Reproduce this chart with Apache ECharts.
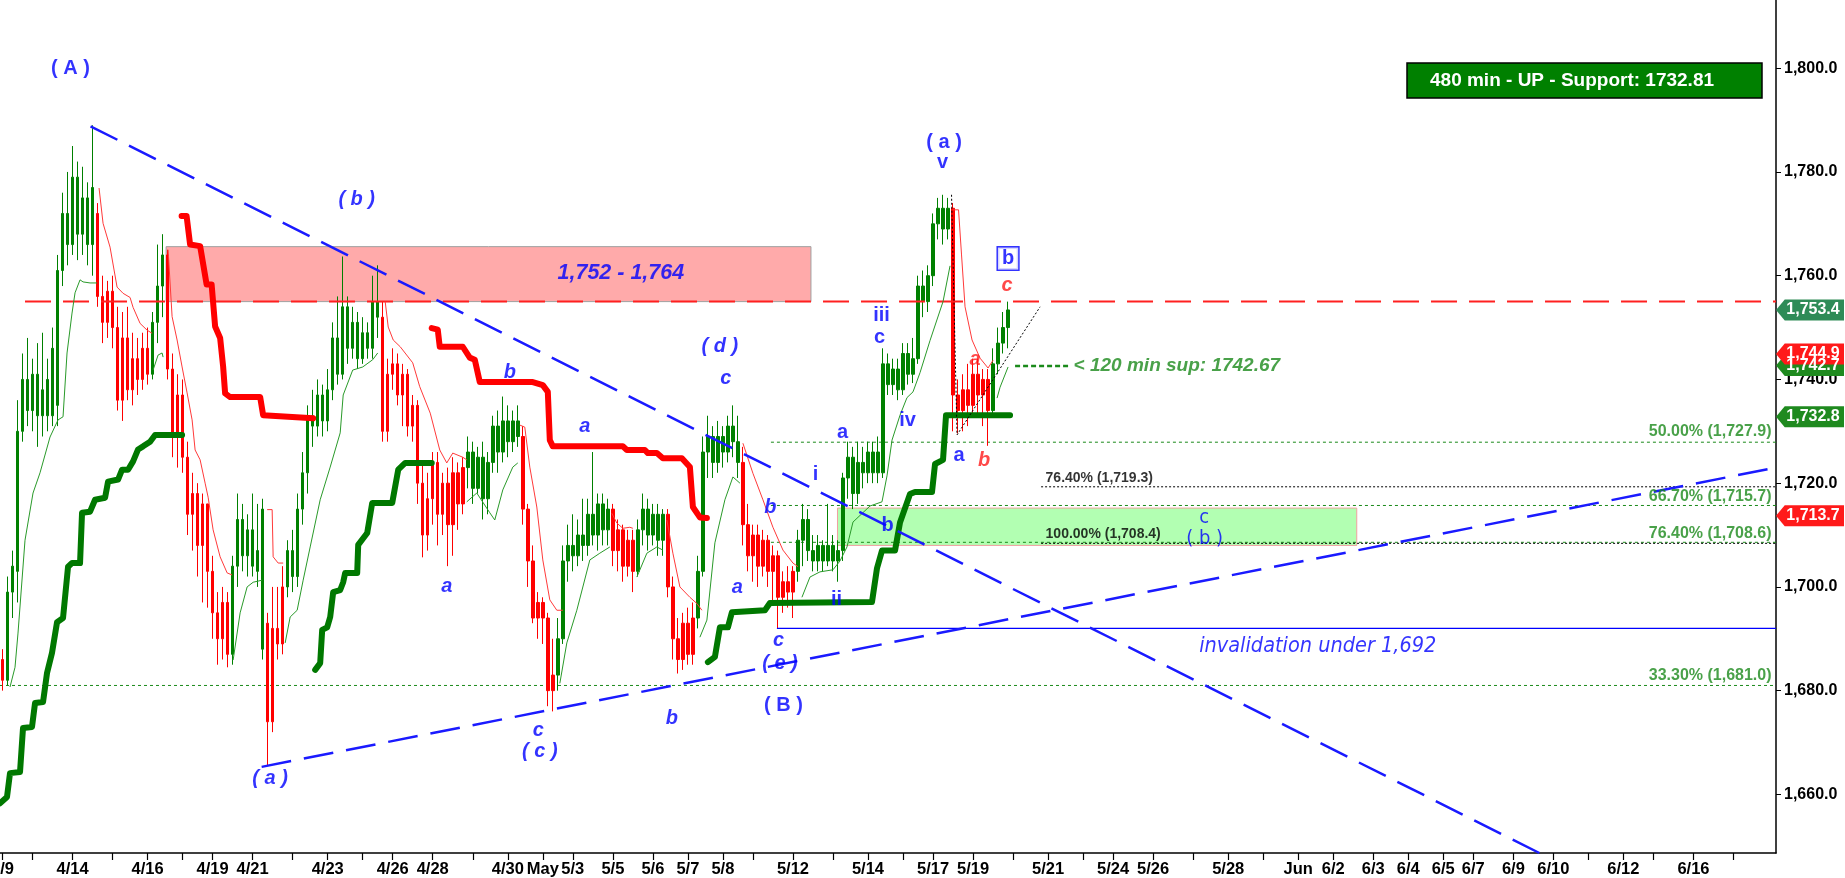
<!DOCTYPE html>
<html><head><meta charset="utf-8">
<script src="https://cdn.jsdelivr.net/npm/echarts@6/dist/echarts.min.js"></script>
<style>html,body{margin:0;padding:0;background:#fff;overflow:hidden}#c{width:1845px;height:878px}</style>
</head><body><div id="c"></div>
<script>
// ---------------- DATA ----------------
const N = 355;                       // bar slots on the time axis (data + future)
const yMin = 1648.7, yMax = 1813.15;
const yTicks = [1660,1680,1700,1720,1740,1760,1780,1800];
const dateLabels = [[0,'4/9'],[14,'4/14'],[29,'4/16'],[42,'4/19'],[50,'4/21'],[65,'4/23'],[78,'4/26'],[86,'4/28'],[101,'4/30'],[108,'May'],[114,'5/3'],[122,'5/5'],[130,'5/6'],[137,'5/7'],[144,'5/8'],[158,'5/12'],[173,'5/14'],[186,'5/17'],[194,'5/19'],[209,'5/21'],[222,'5/24'],[230,'5/26'],[245,'5/28'],[259,'Jun'],[266,'6/2'],[274,'6/3'],[281,'6/4'],[288,'6/5'],[294,'6/7'],[302,'6/9'],[310,'6/10'],[324,'6/12'],[338,'6/16']];
const extraTicks = [6,22,36,58,72,94,150,166,180,202,216,238,252,317,330,346];

// [open, close, low, high]
const candles = [
[1686,1682,1680,1688],[1682,1699,1681,1702],[1699,1704,1694,1707],[1703,1730,1697,1736],[1730,1740,1728,1745],
[1740,1734,1731,1748],[1734,1741,1730,1744],[1741,1733,1727,1747],[1733,1738,1729,1749],[1740,1733,1730,1744],
[1733,1746,1731,1750],[1735,1761,1731,1764],[1761,1772,1758,1776],[1772,1766,1762,1780],[1766,1779,1764,1785],
[1779,1768,1763,1782],[1768,1775,1764,1781],[1775,1766,1762,1778],[1766,1777,1760,1789],[1772,1756,1754,1774],
[1756,1751,1747,1760],[1751,1757,1748,1759],[1757,1750,1746,1760],[1750,1736,1734,1754],[1736,1748,1732,1753],
[1748,1738,1736,1754],[1738,1744,1735,1749],[1744,1740,1737,1748],[1740,1746,1738,1749],[1746,1741,1739,1750],
[1741,1751,1740,1753],[1751,1758,1747,1766],[1758,1764,1752,1768],[1764,1742,1740,1765],[1742,1729,1725,1745],
[1729,1737,1723,1741],[1737,1725,1722,1740],[1725,1714,1710,1728],[1714,1718,1707,1722],[1718,1708,1702,1720],
[1708,1716,1697,1718],[1716,1703,1696,1716],[1703,1695,1690,1706],[1695,1690,1685,1699],[1690,1697,1686,1700],
[1697,1687,1684.5,1699],[1687,1704,1685,1706],[1704,1713,1700,1718],[1713,1706,1703,1716],[1706,1711,1702,1714],
[1711,1704,1702,1718],[1707,1703,1700,1716],[1688,1715,1686,1717],[1693,1674,1665.6,1695],[1674,1692,1672,1700],
[1692,1689,1686,1700],[1689,1700,1687,1704],[1700,1707,1698,1709],[1707,1702,1699,1711],[1702,1715,1700,1718],
[1715,1722,1712,1726],[1722,1733,1718,1735],[1733,1731,1727,1738],[1731,1737,1729,1740],[1737,1732,1729,1739],
[1732,1738,1730,1742],[1738,1748,1736,1751],[1748,1741,1739,1756],[1741,1754,1740,1763.7],[1754,1746,1743,1756],
[1746,1751,1744,1754],[1751,1744,1742,1753],[1744,1749,1743,1752],[1749,1746,1744,1751],[1746,1755,1744,1760],
[1755,1752,1748,1762],[1752,1730,1728,1755],[1730,1741,1728,1744],[1741,1743,1738,1746],[1743,1737,1735,1745],
[1737,1741,1731,1743],[1741,1731,1729,1742],[1731,1735,1728,1737],[1735,1720,1716,1736],[1720,1710,1705.7,1724],
[1710,1717,1707,1722],[1717,1724,1712,1726],[1724,1714,1708,1726],[1714,1720,1710,1722],[1720,1712,1704,1723],
[1712,1722,1706,1725],[1722,1716,1711,1724],[1716,1723,1714,1725],[1723,1726,1719,1729],[1726,1719,1716,1728],
[1719,1725,1718,1727],[1725,1717,1713,1728],[1717,1724,1714,1726],[1724,1731,1722,1733],[1731,1726,1722,1734],
[1726,1732,1724,1736.7],[1732,1728,1725,1735],[1728,1732,1726,1734],[1732,1729,1727,1735],[1729,1715,1712,1731],
[1715,1705,1700,1716],[1705,1694,1693,1708],[1694,1697,1690,1699],[1697,1694,1689,1698],[1694,1680,1677,1695],
[1680,1683,1676,1690],[1683,1690,1680,1694],[1690,1705,1689,1708],[1705,1708,1701,1712],[1708,1706,1703,1714],
[1706,1710,1704,1713],[1710,1708,1705,1717],[1708,1714,1706,1717],[1714,1710,1708,1726],[1710,1716,1707,1718],
[1716,1711,1708,1718],[1711,1715,1708,1717],[1715,1707,1704,1716],[1707,1711,1703,1713],[1711,1704,1701,1712],
[1704,1709,1702,1711],[1709,1703,1699,1711],[1703,1711,1702,1713],[1711,1715,1708,1718],[1715,1710,1707,1717],
[1710,1714,1708,1716],[1714,1709,1706,1716],[1709,1714,1706,1715],[1714,1700,1698,1715],[1700,1690,1686,1702],
[1690,1686,1683.3,1694],[1686,1693,1684,1695],[1693,1687,1685,1696],[1687,1694,1685,1697],[1694,1703,1692,1706],
[1703,1726,1702,1729],[1726,1729,1721,1733],[1729,1724,1721,1731],[1724,1729,1722,1732],[1729,1726,1723,1731],
[1726,1731,1724,1733],[1731,1728,1725,1735],[1728,1724,1721,1733],[1724,1712,1708,1727],[1712,1706,1703,1716],
[1706,1710,1701,1712],[1710,1704,1700,1712],[1704,1709,1702,1711],[1709,1703,1700,1710],[1703,1706,1697,1708],
[1706,1698,1692,1707],[1698,1701,1695,1703],[1701,1699,1696,1704],[1699,1703,1694,1704],[1703,1709,1701,1711],
[1709,1713,1704,1716],[1713,1707,1705,1715],[1707,1705,1703,1710],[1705,1708,1703,1710],[1708,1705,1703,1709],
[1705,1708,1704,1716],[1708,1705,1703,1710],[1705,1707,1701,1709],[1707,1721,1705,1722],[1721,1725,1717,1728],
[1725,1718,1715,1727],[1718,1724,1716,1728],[1724,1722,1719,1727],[1722,1726,1720,1728],[1726,1722,1720,1728],
[1722,1726,1720,1729],[1722,1743,1721,1746],[1743,1739,1737,1745],[1739,1742,1737,1744],[1742,1738,1736,1744],
[1738,1745,1737,1747],[1745,1741,1739,1747],[1741,1744,1739.3,1748],[1744,1758,1743,1760],[1758,1755,1752,1761],
[1755,1760,1753,1762],[1760,1770,1758,1772],[1770,1773,1767,1775],[1773,1769,1766,1775.6],[1769,1773,1767,1775],
[1773,1737,1730,1774],[1737,1734,1729.6,1740],[1734,1738,1730,1741],[1738,1735,1731,1743],[1735,1741,1733,1744],
[1741,1737,1733,1744],[1737,1740,1731,1742],[1740,1734,1727.2,1742],[1734,1743,1733,1746],[1743,1747,1741,1750],
[1747,1750,1745,1753],[1750,1753.4,1746,1755]
];
// bars in a down-trend state (indicator colour)
const downTrendBars = [[0,0],[19,29],[33,45],[53,56],[76,92],[104,110],[122,126],[133,138],[148,158],[190,197]];

// thin trailing envelopes: [barIndex, price]
const thinGreen = [
 [[1.5,1680.7],[2.5,1684.5],[3.1,1691.1],[4.5,1709],[6.1,1718.1],[7.5,1722],[9.5,1728.9],[11.1,1732.2],[12.1,1732.8],[12.9,1745.1],[13.9,1752.8],[14.5,1756.7],[15.5,1759.2],[16.1,1758.8],[17.5,1758.6],[18.9,1758.6]],
 [[30.1,1741.8],[31.1,1744.7],[31.9,1745.1],[32.1,1744.3]],
 [[46.1,1685.9],[47.5,1695],[48.9,1700],[50.1,1700.9],[51.9,1701.3]],
 [[56.5,1689.2],[57.5,1694.2],[58.9,1695.5],[60.1,1701.3],[61.5,1707.7],[63.5,1716.8],[65.5,1723.1],[67.5,1729.7],[68.1,1737],[70,1741.8],[72,1742.4],[74,1743.8],[75,1745.1]],
 [[92.8,1716.4],[94.8,1718.1],[97.4,1714.3],[98.4,1712.9],[100,1718.7],[102,1723.1],[103,1723.9]],
 [[111.4,1681.4],[112.8,1689.2],[114.8,1695.5],[117.4,1705.2],[119.4,1706.5],[121.4,1707.7]],
 [[126.8,1701.9],[128.8,1706.5],[130.8,1707.7],[132,1707.1]],
 [[139.4,1690.3],[140.8,1693.6],[142.4,1708.5],[144.4,1716.8],[146,1721.2],[147.4,1720]],
 [[159.8,1698],[161.4,1701.9],[163.4,1702.9],[166,1703.3],[167.4,1705],[168.8,1707.7],[170,1712.5],[173.4,1715.6],[175.8,1716.4],[176.8,1721.4],[177.8,1728.3],[179.4,1733.1],[180.8,1736.5],[182,1737.6],[183.4,1741.3],[185.4,1747.5],[188,1755],[189.4,1761.9]],
 [[198.8,1736.4],[199.4,1738.5],[201,1742.4]]
];
const thinRed = [
 [[19.3,1776.9],[20.1,1770.1],[21.5,1765.5],[22.9,1757.8],[24.1,1756.6],[25.5,1755.8],[26.1,1753.9],[27.5,1750.8],[28.9,1749.5],[29.9,1748.9]],
 [[33.1,1765],[33.9,1752.1],[34.9,1747.6],[35.9,1742.4],[36.9,1737.4],[37.9,1732.2],[38.5,1726.4],[39.5,1724.5],[40.5,1720],[41.1,1717.3],[42.1,1711],[43.5,1705.8],[44.9,1702.7],[45.9,1702.3]],
 [[52.9,1714.9],[53.9,1714.9],[54.1,1705.8],[55.1,1704.6],[56.1,1704.6]],
 [[76.5,1755],[77.1,1750.1],[78.1,1747.6],[79.5,1746.3],[82,1743.2],[83.4,1738.6],[85.5,1733.5],[87.4,1726.4],[88.8,1723.9],[90,1725.8],[92,1725],[92.8,1724.5]],
 [[103.4,1731.2],[104.4,1730.8],[105.4,1723.1],[106.8,1715.4],[108,1705.2],[109.4,1697.5],[110.8,1695.5],[112,1695.5]],
 [[121.8,1714.2],[122.8,1712.3],[124,1711.3],[125.4,1711.5],[126,1711.3]],
 [[132.8,1712.9],[134,1706.5],[135.4,1700],[137.4,1698],[138.8,1696.8],[139.8,1695.5]],
 [[148,1727.7],[150,1721.9],[152,1716.8],[154,1711.5],[156,1707.1],[158,1704.6],[159,1703.9]],
 [[189.9,1772.7],[191.1,1772.7],[191.7,1764],[192.4,1754],[193.8,1747.6],[195.4,1744.1],[197,1742.2],[198,1743.7]]
];
// thick trailing stops
const thickRed = [
 [[35.8,1771.5],[36.8,1771.5],[37.5,1766],[39.5,1765.7],[40.8,1758.3],[41.8,1758.3],[42.5,1750.2],[43.5,1748],[44.1,1742.5],[44.5,1737.3],[45.5,1736.6],[51.5,1736.6],[52.1,1733.1],[62.1,1732.5]],
 [[85.8,1749.9],[87,1749.6],[87.4,1746.3],[92,1746.3],[93.4,1744.2],[94.4,1743.8],[95.4,1739.5],[106,1739.5],[108,1738.9],[109,1737.6],[109.4,1728.3],[110,1727.1],[124,1727.1],[124.8,1726.4],[128.4,1726.4],[129,1725.8],[130.8,1725.8],[132,1724.8],[135.8,1724.8],[137.4,1723.1],[138,1715.4],[139.4,1713.4],[140.8,1713.3]]
];
const thickGreen = [
 [[-0.5,1658.3],[0.9,1659.5],[1.5,1664.1],[3.5,1664.3],[4.1,1672.8],[5.9,1673],[6.5,1677.6],[8.1,1677.8],[8.9,1683.4],[9.9,1687.3],[10.9,1693.2],[12.1,1694],[13.1,1703.9],[13.9,1704.6],[15.5,1704.6],[15.9,1714.3],[17.5,1714.5],[18.5,1716.8],[20.5,1717.2],[21.1,1720.3],[23.1,1720.7],[23.9,1722.6],[25.1,1722.6],[26.1,1724.2],[27.1,1726.5],[28.1,1727.1],[29.5,1728],[30.5,1729.3],[35.9,1729.3]],
 [[62.5,1684],[63.5,1685.3],[63.9,1691.7],[64.9,1692.2],[65.5,1694.2],[66.1,1699],[67.5,1699.4],[68.1,1700.9],[68.5,1702.7],[70.9,1702.7],[71.1,1708.1],[72.9,1710.4],[73.9,1716.2],[77.9,1716.2],[79.1,1722.6],[80.5,1723.9],[85.8,1723.9]],
 [[141,1685.5],[142.4,1686.5],[143.4,1692.2],[145,1692.2],[145.8,1695.1],[152.4,1695.5],[153.4,1696.9],[173.8,1697.1],[174.8,1703.6],[175.8,1707],[178.4,1707],[179.4,1712.4],[181.4,1717.9],[182.4,1718.3],[185.8,1718.3],[186.4,1723.7],[188,1724.5],[188.6,1733.1],[201.4,1733.1]]
];
// trend lines [barIndex, price]
const downTrendLine = [[17.6,1788.8],[307.2,1648.7]];
const upTrendLine = [[51.8,1665.3],[354.5,1723.0]];
const abcGuide = [[189.7,1775.6],[190.8,1729.3],[207.4,1754]];
// zones [fromBar, toBar, low, high]
const resistanceZone = [32.7, 161.6, 1755, 1765.6];
const supportZone = [166.9, 270.7, 1708.0, 1715.2];
// horizontal levels [price, fromBar]
const resistanceLevel = [1755, 4.5];
const invalidationLevel = [1692, 154.8];
const fibGreen = [[1727.9,153.6,'50.00% (1,727.9)',1729.9],[1715.7,153.6,'66.70% (1,715.7)',1717.5],[1708.6,153.6,'76.40% (1,708.6)',1710.3],[1681.0,-0.5,'33.30% (1,681.0)',1682.9]];
const fibBlack = [[1719.3,207.6,'76.40% (1,719.3)',1720.9],[1708.4,207.6,'100.00% (1,708.4)',1710.1]];
const supLevel120 = [1742.6, 202.4, 213.6];
// annotations [barIndex, price, text]
const waveItalic = [[70.8,1774.7,'( b )'],[53.5,1663,'( a )'],[107.1,1672.4,'c'],[107.4,1668.3,'( c )'],[133.8,1674.6,'b'],[155.1,1689.7,'c'],[155.4,1685.2,'( e )'],[146.9,1699.9,'a'],[153.5,1715.4,'b'],[143.4,1746.4,'( d )'],[144.6,1740.2,'c'],[101.4,1741.4,'b'],[116.4,1731,'a'],[88.8,1700,'a']];
const waveUpright = [[13.6,1800,'( A )'],[156.1,1677.1,'( B )'],[166.7,1697.5,'ii'],[162.5,1721.7,'i'],[167.9,1729.7,'a'],[176.9,1711.9,'b'],[175.7,1752.3,'iii'],[175.3,1748,'c'],[180.9,1732.1,'iv'],[188.2,1785.6,'( a )'],[187.9,1781.8,'v'],[191.2,1725.4,'a']];
const waveThin = [[240.2,1713.4,'c'],[240.3,1709.3,'( b )']];
const waveRed = [[194.4,1743.8,'a'],[196.2,1724.4,'b'],[200.8,1758.2,'c']];
const waveBoxed = [[201,1763.3,'b']];
const notes = [[123.6,1760.5,'1,752 - 1,764'],[262.9,1688.6,'invalidation under 1,692']];
const supNote = [213.6,1742.6,'< 120 min sup: 1742.67'];
const badges = [[1753.4,'up1'],[1742.7,'up'],[1744.9,'down'],[1732.8,'up'],[1713.7,'down']];
const titleText = '480 min - UP - Support: 1732.81';

// ---------------- STYLE / BUILD ----------------
const FONT = "'Liberation Sans', Arial, sans-serif";
const NARROW = "'Liberation Sans Narrow','Arial Narrow','DejaVu Sans Condensed',sans-serif";
const BLUE = '#0000ff', GREEN = '#008000', RED = '#ff0000', FIBG = '#1b8a1b';
const X1 = N - 0.5;

const labelMap = {}; dateLabels.forEach(d => labelMap[d[0]] = d[1]);
const tickSet = new Set(extraTicks.concat(dateLabels.map(d => d[0])));
const cats = Array.from({length: N}, (_, i) => String(i));
const isDown = i => downTrendBars.some(r => i >= r[0] && i <= r[1]);
const candleData = candles.map((c, i) => {
  const col = isDown(i) ? RED : GREEN;
  return {value: c, itemStyle: {color: col, color0: col, borderColor: col, borderColor0: col, borderWidth: 1}};
});

const series = [];
function line(data, style, z) {
  series.push({type: 'line', xAxisIndex: 1, yAxisIndex: 0, data: data, symbol: 'none', silent: true,
    z: z || 3, lineStyle: style, animation: false});
}
// zones
series.push({type: 'line', xAxisIndex: 1, data: [[-0.5, 1700]], symbol: 'none', lineStyle: {opacity: 0}, z: 0, silent: true,
  markArea: {silent: true, data: [
    [{xAxis: resistanceZone[0], yAxis: resistanceZone[3], itemStyle: {color: '#ffaaaa', borderColor: '#a0a0a0', borderWidth: 1}},
     {xAxis: resistanceZone[1], yAxis: resistanceZone[2]}],
    [{xAxis: supportZone[0], yAxis: supportZone[3], itemStyle: {color: '#b2ffb2', borderColor: '#f0a0a0', borderWidth: 1}},
     {xAxis: supportZone[1], yAxis: supportZone[2]}]
  ]}});
// candles
series.push({type: 'candlestick', xAxisIndex: 0, yAxisIndex: 0, data: candleData, barWidth: 3, z: 2, silent: true});
// levels
fibGreen.forEach(f => line([[f[1], f[0]], [X1, f[0]]], {color: FIBG, width: 1, type: [3, 3]}, 1));
fibBlack.forEach(f => line([[f[1], f[0]], [X1, f[0]]], {color: '#000', width: 1, type: [2, 2]}, 1));
line([[invalidationLevel[1], invalidationLevel[0]], [X1, invalidationLevel[0]]], {color: '#0000ff', width: 1.3}, 3);
line([[resistanceLevel[1], resistanceLevel[0]], [X1, resistanceLevel[0]]], {color: '#ff2020', width: 2, type: [26, 12]}, 3);
line([[supLevel120[1], supLevel120[0]], [supLevel120[2], supLevel120[0]]], {color: FIBG, width: 2.5, type: [5, 3]}, 3);
// indicators
thinGreen.forEach(s => line(s, {color: '#2a9a2a', width: 1}, 3));
thinRed.forEach(s => line(s, {color: '#ff3a3a', width: 1}, 3));
thickRed.forEach(s => line(s, {color: RED, width: 6, cap: 'round', join: 'round'}, 4));
thickGreen.forEach(s => line(s, {color: '#007800', width: 6, cap: 'round', join: 'round'}, 4));
// trend lines
line(downTrendLine, {color: '#1a1aff', width: 2.5, type: [30, 13]}, 5);
line(upTrendLine, {color: '#1a1aff', width: 2.5, type: [30, 13]}, 5);
line(abcGuide, {color: '#000', width: 1, type: [2, 2]}, 5);

function texts(items, lab, z) {
  series.push({type: 'scatter', xAxisIndex: 1, yAxisIndex: 0, symbolSize: 1, silent: true, clip: false, z: z || 10,
    itemStyle: {color: 'rgba(0,0,0,0)'},
    data: items.map(t => ({value: [t[0], t[1]], name: t[2]})),
    label: Object.assign({show: true, position: 'inside', formatter: '{b}', fontFamily: FONT}, lab)});
}
texts(waveItalic, {color: BLUE, fontStyle: 'italic', fontWeight: 'bold', fontSize: 20});
texts(waveUpright, {color: BLUE, fontWeight: 'bold', fontSize: 20});
texts(waveThin, {color: BLUE, fontSize: 20, fontFamily: NARROW});
texts(waveRed, {color: '#ff1a1a', fontStyle: 'italic', fontWeight: 'bold', fontSize: 20});
texts(waveBoxed, {color: BLUE, fontWeight: 'bold', fontSize: 20, backgroundColor: '#fff', borderColor: BLUE, borderWidth: 1.5, padding: [2, 4, 0, 4]});
texts([notes[0]], {color: BLUE, fontStyle: 'italic', fontWeight: 'bold', fontSize: 21.5});
texts([notes[1]], {color: BLUE, fontStyle: 'italic', fontSize: 21.5, fontFamily: NARROW});
texts([supNote], {color: FIBG, fontStyle: 'italic', fontWeight: 'bold', fontSize: 19, position: 'right', distance: 2});
texts(fibGreen.map(f => [X1, f[3], f[2]]), {color: FIBG, fontWeight: 'bold', fontSize: 16, position: 'left', distance: 4});
texts(fibBlack.map(f => [f[1], f[3], f[2]]), {color: '#000', fontWeight: 'bold', fontSize: 14, position: 'right', distance: 4});

// price badges on the right axis
const badgeCol = {up1: '#2e8b57', up: '#1f8a1f', down: '#ff1a1a'};
series.push({type: 'line', xAxisIndex: 1, data: [[-0.5, 1700]], symbol: 'none', lineStyle: {opacity: 0}, z: 20, silent: true, clip: false,
  markPoint: {silent: true, symbol: 'path://M0,10 L9,0 L70,0 L70,20 L9,20 Z', symbolSize: [68, 21], symbolOffset: [34, 0], symbolKeepAspect: false,
    label: {show: true, position: 'inside', formatter: '{b}', color: '#fff', fontWeight: 'bold', fontSize: 16, fontFamily: FONT, offset: [3, 0]},
    data: badges.map(b => ({coord: [X1, b[0]], name: b[0].toFixed(1).replace(/^(\d)(\d{3})/, '$1,$2'), itemStyle: {color: badgeCol[b[1]]}}))}});

const option = {
  animation: false,
  backgroundColor: '#fff',
  title: {text: titleText, left: 1407, top: 63, backgroundColor: GREEN, borderColor: '#000', borderWidth: 1.5,
    padding: [8, 48, 8, 23], textStyle: {color: '#fff', fontWeight: 'bold', fontSize: 19, fontFamily: FONT}},
  grid: {left: 0, right: 69, top: 0, bottom: 25, containLabel: false, outerBoundsMode: 'none'},
  xAxis: [
    {type: 'category', data: cats, boundaryGap: true,
     axisLine: {onZero: false, lineStyle: {color: '#000', width: 1.5}},
     axisTick: {show: true, alignWithLabel: true, interval: (i) => tickSet.has(i), length: 7, lineStyle: {color: '#000', width: 1.2}},
     axisLabel: {interval: 0, formatter: (v, i) => labelMap[i] || '', color: '#000', fontWeight: 'bold', fontSize: 16.5, fontFamily: FONT, margin: 8},
     splitLine: {show: false}},
    {type: 'value', min: -0.5, max: X1, show: false, axisLine: {onZero: false}}
  ],
  yAxis: [{type: 'value', position: 'right', min: yMin, max: yMax, scale: true,
    axisLine: {show: true, onZero: false, lineStyle: {color: '#000', width: 1.5}},
    axisTick: {show: true, customValues: yTicks, length: 5, lineStyle: {color: '#000'}},
    axisLabel: {customValues: yTicks, formatter: v => v.toFixed(1).replace(/^(\d)(\d{3})/, '$1,$2'), color: '#000', fontWeight: 'bold', fontSize: 16, fontFamily: FONT, margin: 8},
    splitLine: {show: false}}],
  series: series
};
const chart = echarts.init(document.getElementById('c'), null, {renderer: 'canvas'});
chart.setOption(option);
</script></body></html>
